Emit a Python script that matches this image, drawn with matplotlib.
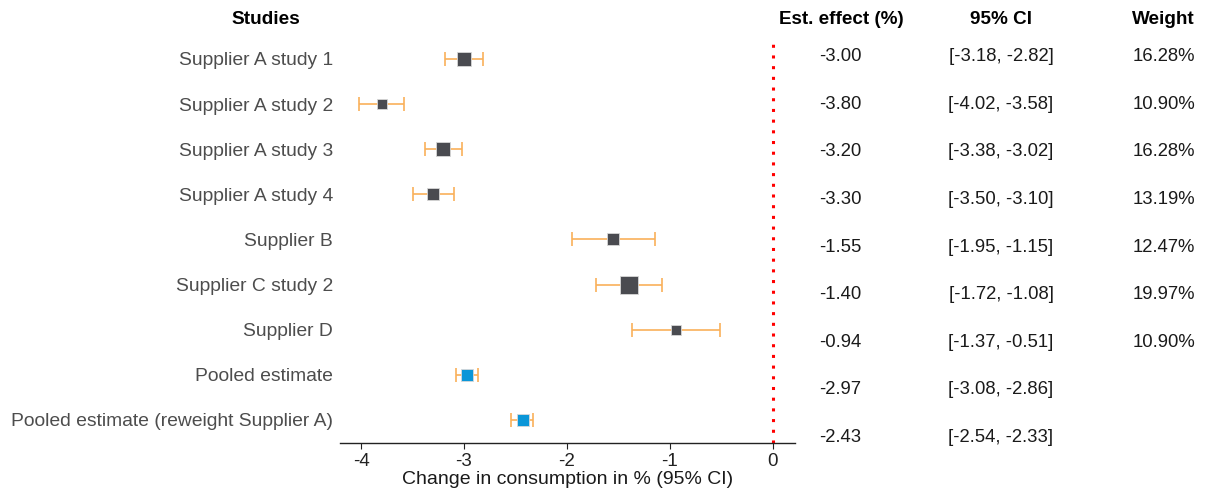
import matplotlib
matplotlib.use("Agg")
import matplotlib.pyplot as plt
import numpy as np

plt.rcParams["font.family"] = ["Liberation Sans", "DejaVu Sans"]

# Data
studies = [
    "Supplier A study 1",
    "Supplier A study 2",
    "Supplier A study 3",
    "Supplier A study 4",
    "Supplier B",
    "Supplier C study 2",
    "Supplier D",
    "Pooled estimate",
    "Pooled estimate (reweight Supplier A)",
]
estimates = [-3.00, -3.80, -3.20, -3.30, -1.55, -1.40, -0.94, -2.97, -2.43]
ci_low = [-3.18, -4.02, -3.38, -3.50, -1.95, -1.72, -1.37, -3.08, -2.54]
ci_high = [-2.82, -3.58, -3.02, -3.10, -1.15, -1.08, -0.51, -2.86, -2.33]
weights = [16.28, 10.90, 16.28, 13.19, 12.47, 19.97, 10.90, None, None]

W, H = 1206, 491
fig = plt.figure(figsize=(W / 100, H / 100), dpi=100)


def px_axes(left, top, right, bottom):
    return fig.add_axes([left / W, 1 - bottom / H, (right - left) / W, (bottom - top) / H])


# forest plot panel
ax = px_axes(340, 40, 795, 443)
n = len(studies)
ypos = np.arange(n)
est = np.array(estimates)
lo = np.array(ci_low)
hi = np.array(ci_high)

ax.errorbar(est, ypos, xerr=[est - lo, hi - est], fmt="none",
            ecolor="#f9b05a", elinewidth=1.2, capsize=5, capthick=1.2, zorder=2)

for i in range(n):
    if weights[i] is None:
        side_px = 12.5
        color = "#0a96d8"
    else:
        side_px = 0.9 * weights[i]
        color = "#4a4b50"
    side_pt = side_px * 72 / 100
    ax.scatter(est[i], ypos[i], marker="s", s=side_pt ** 2, color=color,
               edgecolors="#d8d8d8", linewidths=0.6, zorder=3)

ax.axvline(0, color="#ff0000", linestyle=(0, (1, 2.5)), linewidth=2.2, zorder=1)

ax.set_xlim(-4.204, 0.214)
ax.set_ylim(n - 1 + 0.51, -0.42)
ax.set_xticks([-4, -3, -2, -1, 0])
ax.set_xticklabels(["-4", "-3", "-2", "-1", "0"])
ax.tick_params(axis="x", labelsize=13.5, colors="#222222", length=4, width=0.8, pad=3)
ax.set_yticks(ypos)
ax.set_yticklabels(studies)
ax.tick_params(axis="y", length=0, pad=5, labelsize=13.9, labelcolor="#4d4d4d")
for side in ["top", "right", "left"]:
    ax.spines[side].set_visible(False)
ax.spines["bottom"].set_color("#222222")
ax.spines["bottom"].set_linewidth(1.0)
ax.set_xlabel("Change in consumption in % (95% CI)", fontsize=14, color="#1a1a1a", labelpad=1)

# header
fig.text(266 / W, 1 - 20 / H, "Studies", ha="center", va="center",
         fontsize=13.7, fontweight="bold")

# table panel
tab = px_axes(795, 33, 1206, 461)
tab.set_xlim(795, 1206)
tab.set_ylim(n - 0.5, -0.5)
tab.axis("off")
for i in range(n):
    tab.text(840, i, f"{estimates[i]:.2f}", ha="center", va="center", fontsize=13.3, color="#1a1a1a")
    tab.text(1001, i, f"[{ci_low[i]:.2f}, {ci_high[i]:.2f}]", ha="center", va="center",
             fontsize=13.3, color="#1a1a1a")
    if weights[i] is not None:
        tab.text(1195, i, f"{weights[i]:.2f}%", ha="right", va="center", fontsize=13.3, color="#1a1a1a")

fig.text(841 / W, 1 - 20 / H, "Est. effect (%)", ha="center", va="center", fontsize=13.6, fontweight="bold")
fig.text(1001 / W, 1 - 20 / H, "95% CI", ha="center", va="center", fontsize=13.6, fontweight="bold")
fig.text(1163 / W, 1 - 20 / H, "Weight", ha="center", va="center", fontsize=13.6, fontweight="bold")

fig.savefig("out.png", dpi=100)
